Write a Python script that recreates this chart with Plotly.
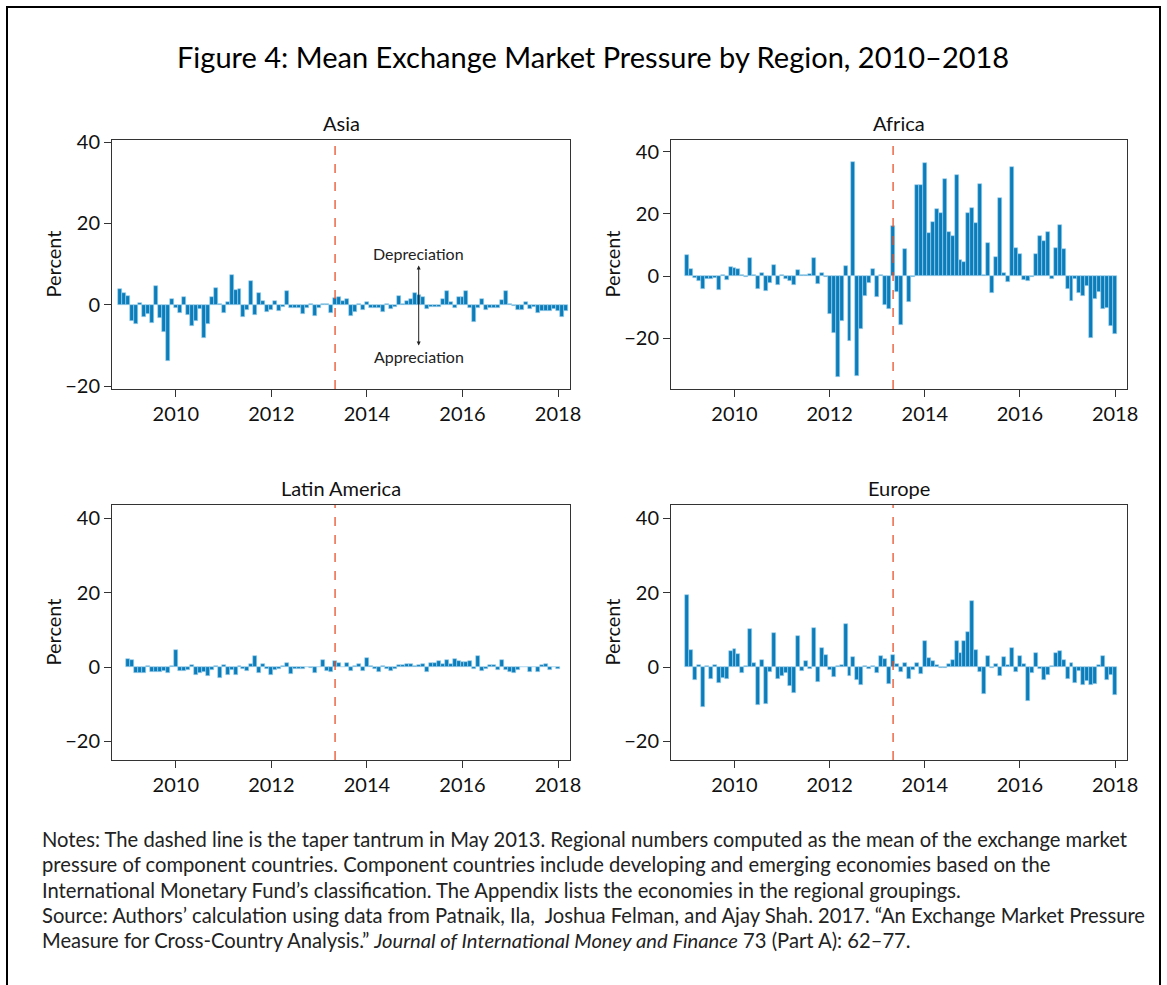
import plotly.graph_objects as go
import pandas as pd

W, H = 1167, 985

# ---------------- data (monthly mean exchange market pressure, percent) ----------------
ASIA_START = "2008-11"
ASIA = [4.0, 2.8, 2.1, -3.9, -4.8, 0.5, -3.0, -2.3, -4.4, 4.7, -3.3, -6.8, -13.8, 1.5, -0.9, -2.1,
        2.0, -2.6, -5.1, -3.9, -1.0, -8.1, -4.6, 2.0, 4.1, 0.3, -2.1, 0.8, 7.2, 3.7, 4.0, -2.9, -1.2,
        5.9, -2.5, 3.0, 1.0, -1.7, -1.3, 1.0, -1.5, -0.5, 3.5, -0.9, -0.7, -0.8, -2.3, -0.7, 0.2, -2.8,
        -0.7, 0.3, 0.3, -1.9, 1.7, 2.0,
        1.0, 1.4, -2.8, -1.7, 0.3, -1.3, 0.7, -0.7, -0.7, -0.7, -1.7, 0.3, -1.1, -0.5, 2.1, 0.3,
        1.0, 1.3, 2.8, 2.4, 2.0, -1.1, -0.5, -0.5, -0.6, 1.3, 3.5, 0.7, -0.7, 1.8, 1.8, 3.5, -0.9,
        -4.3, -0.8, 1.4, -1.2, -0.8, -0.8, -0.7, 1.2, 3.3, 0.3, -0.3, -1.3, -1.3, 0.6, -1.0, -0.5,
        -2.0, -1.5, -1.5, -1.5, -1.0, -1.5, -3.0, -1.6]

AFRICA_START = "2009-01"
AFRICA = [6.7, 2.2, -0.5, -1.5, -4.1, -1.1, -1.1, -0.6, -4.5, 0.3, -1.3, 2.8, 2.5, 2.3, 0.3, -0.3,
          5.7, 0.2, -4.1, 0.9, -4.8, -2.4, 3.4, -3.0, 0.2, -1.1, -1.7, -2.8, 1.9, 0.2, 0.2, 0.6,
          5.8, -2.6, 1.0, -0.4, -12.1, -18.2, -32.4, -14.5, 3.2, -20.8, 36.5, -32.0, -17.1, -6.4,
          -2.3, 2.3, -6.7, 0.3, -9.3, -10.6, 16.2, -5.1,
          -15.7, 8.8, -8.3, -0.4, 29.3, 29.3, 36.4, 13.7, 17.2, 21.6, 20.4, 31.2, 14.3, 12.8,
          32.3, 5.0, 4.5, 20.2, 21.9, 17.1, 29.7, 0.3, 10.7, -5.4, 6.1, 25.2, 0.9, -1.8, 34.9,
          9.0, 7.1, -1.3, -1.7, -0.4, 7.1, 12.9, 11.2, 14.3, -0.9, 9.0, 16.4, 8.8, -4.1, -7.9,
          -0.9, -5.4, -6.5, -3.2, -19.9, -7.4, -5.2, -10.6, -10.4, -16.0, -18.6]

LATAM_START = "2009-01"
LATAM = [2.2, 1.9, -1.7, -1.7, -1.7, 0.2, -1.2, -1.2, -1.2, -1.0, -1.5, 0.4, 4.5, -1.1, -1.1, -0.9,
         0.5, -2.0, -1.5, -1.4, -2.3, -0.8, 0.2, -2.9, 0.6, -2.0, -0.8, -2.0, 0.2, -0.5, -1.1, 0.8,
         3.0, -1.5, 0.8, -0.6, -2.0, -0.8, -0.6, 0.3, 1.2, -1.9, -0.5, -0.5, -0.4, 0.1, -0.3, -1.7,
         0.1, 1.9, -1.0, -1.3, 1.5, 1.2,
         0.1, 1.2, -1.0, 0.3, 0.7, -1.0, 2.4, 0.3, -0.6, -1.4, 0.2, -0.4, -1.0, -0.4, 0.5, 0.6,
         0.7, 0.7, 0.2, 0.5, 0.7, -1.3, 1.0, 1.0, 1.5, 0.9, 1.9, 0.8, 2.3, 1.5, 1.4, 1.3, 1.5,
         -0.5, 2.9, -1.0, -0.4, 0.5, 0.5, -0.8, 1.9, -0.8, -1.3, -1.5, -0.8, 0.0, 0.1, -1.3, 0.1,
         -1.4, 0.6, 0.8, -0.8, 0.0, -0.6]

EUROPE_START = "2009-01"
EUROPE = [19.5, 4.5, -3.5, 0.5, -10.7, 0.2, -3.2, 0.5, -4.2, -3.0, -3.1, 4.3, 4.9, 3.4, -1.7, 0.3,
          10.3, 1.2, -10.3, 1.9, -9.9, -1.4, 9.1, -3.2, -2.3, -1.6, -5.1, -7.1, 8.4, -1.0, 1.7,
          -0.5, 10.6, -3.9, 5.1, 3.3, -0.8, -2.7, 0.2, 0.5, 11.5, -2.3, 2.6, -3.4, -4.7, 0.2, -0.4,
          0.3, -1.7, 3.0, 2.2, -4.6, 3.2, 0.8,
          -1.4, 1.2, -3.2, -0.7, 1.0, -1.9, 7.1, 2.5, 1.6, 0.5, -0.2, -0.2, 0.7, 1.9, 6.9, 3.7,
          7.1, 9.5, 17.7, 4.5, -1.2, -7.3, 3.1, -0.2, 0.7, -2.5, 2.6, 0.5, 5.1, -1.3, 3.0, 0.9,
          -9.2, -1.5, 3.9, -0.4, -3.5, -2.1, 0.2, 3.8, 4.4, 1.8, -3.3, 1.1, -4.3, -1.1, -4.7, -3.7,
          -4.9, -4.6, 0.5, 2.9, -3.4, -2.0, -7.6]

REGIONS = ["Asia", "Africa", "Latin America", "Europe"]
SERIES = [(ASIA_START, ASIA), (AFRICA_START, AFRICA), (LATAM_START, LATAM), (EUROPE_START, EUROPE)]
TAPER_TANTRUM = "2013-05"
Y_TICKS = [-20, 0, 20, 40]
X_TICKS = [2010, 2012, 2014, 2016, 2018]
Y_RANGES = [(-20.7, 40.5), (-36.3, 43.7), (-25.0, 43.6), (-25.0, 43.6)]

TITLE = "Figure 4: Mean Exchange Market Pressure by Region, 2010\u20132018"
NOTES = [
    "Notes: The dashed line is the taper tantrum in May 2013. Regional numbers computed as the mean of the exchange market",
    "pressure of component countries. Component countries include developing and emerging economies based on the",
    "International Monetary Fund\u2019s classification. The Appendix lists the economies in the regional groupings.",
    "Source: Authors\u2019 calculation using data from Patnaik, Ila,  Joshua Felman, and Ajay Shah. 2017. \u201cAn Exchange Market Pressure",
    "Measure for Cross-Country Analysis.\u201d <i>Journal of International Money and Finance</i> 73 (Part A): 62\u201377.",
]


def month_to_year(p):
    return p.year + (p.month - 1) / 12.0


# ---------------- layout geometry (pixels) ----------------
FONT = "Lato"
BAR = "#0A7DBA"
BAR_EDGE = "#A7D5EE"
AX = "#333333"

boxes = [  # left, top, right, bottom
    (112, 140, 570, 389),
    (671, 140, 1127, 389),
    (112, 505, 570, 760),
    (671, 505, 1127, 760),
]

fig = go.Figure()
annotations = []
shapes = []

for k, (region, (start, vals), box, yr) in enumerate(zip(REGIONS, SERIES, boxes, Y_RANGES)):
    idx = "" if k == 0 else str(k + 1)
    months = pd.period_range(start=start, periods=len(vals), freq="M")
    xs = [month_to_year(p) for p in months]
    fig.add_trace(go.Bar(
        x=xs, y=vals, xaxis="x" + idx, yaxis="y" + idx,
        marker=dict(color=BAR, line=dict(color=BAR_EDGE, width=0.6)),
        width=1 / 12.0, showlegend=False, hoverinfo="x+y",
    ))
    l, t, r, b = box
    fig.update_layout(**{
        "xaxis" + idx: dict(
            domain=[l / W, r / W], anchor="y" + idx, range=[2008.665, 2018.25],
            tickvals=X_TICKS, ticktext=[str(v) for v in X_TICKS],
            ticks="outside", ticklen=7, tickwidth=1, tickcolor=AX,
            showline=True, linecolor=AX, linewidth=1, mirror=True,
            showgrid=False, zeroline=False, automargin=False,
            tickfont=dict(family=FONT, size=20, color="#111"),
        ),
        "yaxis" + idx: dict(
            domain=[1 - b / H, 1 - t / H], anchor="x" + idx, range=list(yr),
            tickvals=Y_TICKS, ticktext=["\u221220", "0", "20", "40"],
            ticks="outside", ticklen=7, tickwidth=1, tickcolor=AX,
            showline=True, linecolor=AX, linewidth=1, mirror=True,
            showgrid=False, zeroline=False, automargin=False,
            tickfont=dict(family=FONT, size=20, color="#111"),
        ),
    })
    tp = pd.Period(TAPER_TANTRUM, freq="M")
    shapes.append(dict(type="line", xref="x" + idx, yref="y" + idx + " domain",
                       x0=month_to_year(tp), x1=month_to_year(tp), y0=0, y1=1,
                       line=dict(color="#E8502A", width=1.3, dash="dash")))
    annotations.append(dict(text=region, x=(l + r) / 2 / W, y=1 - (t - 17) / H,
                            xref="paper", yref="paper", showarrow=False,
                            xanchor="center", yanchor="middle",
                            font=dict(family=FONT, size=20, color="#111")))
    annotations.append(dict(text="Percent", x=(l - 60) / W, y=1 - (t + b) / 2 / H,
                            xref="paper", yref="paper", showarrow=False, textangle=-90,
                            xanchor="center", yanchor="middle",
                            font=dict(family=FONT, size=20, color="#111")))

ARROW_MONTH = pd.Period("2015-02", freq="M")
ax_x = month_to_year(ARROW_MONTH)
annotations.append(dict(x=ax_x, y=-10, ax=ax_x, ay=10, xref="x", yref="y", axref="x", ayref="y",
                        text="", showarrow=True, arrowhead=2, arrowsize=0.8, arrowwidth=1,
                        arrowside="end+start", arrowcolor="#222", standoff=0, startstandoff=0))
annotations.append(dict(x=ax_x, y=12.6, xref="x", yref="y", text="Depreciation", showarrow=False,
                        xanchor="center", yanchor="middle",
                        font=dict(family=FONT, size=16, color="#222")))
annotations.append(dict(x=ax_x, y=-12.8, xref="x", yref="y", text="Appreciation", showarrow=False,
                        xanchor="center", yanchor="middle",
                        font=dict(family=FONT, size=16, color="#222")))

annotations.append(dict(text=TITLE, x=593 / W, y=1 - 57 / H, xref="paper", yref="paper",
                        showarrow=False, xanchor="center", yanchor="middle",
                        font=dict(family=FONT, size=29, color="#000")))

for i, line in enumerate(NOTES):
    annotations.append(dict(text=line, x=40 / W, y=1 - (839 + i * 25.3) / H,
                            xref="paper", yref="paper", showarrow=False,
                            xanchor="left", yanchor="middle",
                            font=dict(family=FONT, size=20.2, color="#222")))

# outer frame (open at the bottom, as in the original)
shapes.append(dict(type="rect", xref="paper", yref="paper", x0=7 / W, x1=1160 / W,
                   y0=-0.05, y1=1 - 7 / H, line=dict(color="#000", width=2), layer="below"))

fig.update_layout(
    width=W, height=H, margin=dict(l=0, r=0, t=0, b=0, pad=0),
    paper_bgcolor="white", plot_bgcolor="white",
    bargap=0, annotations=annotations, shapes=shapes, showlegend=False,
    font=dict(family=FONT),
)

fig.write_html(
    "out.html",
    config={"displayModeBar": False},
    post_script="document.body.style.margin='0px';document.body.style.overflow='hidden';"
                "document.documentElement.style.overflow='hidden';",
)
